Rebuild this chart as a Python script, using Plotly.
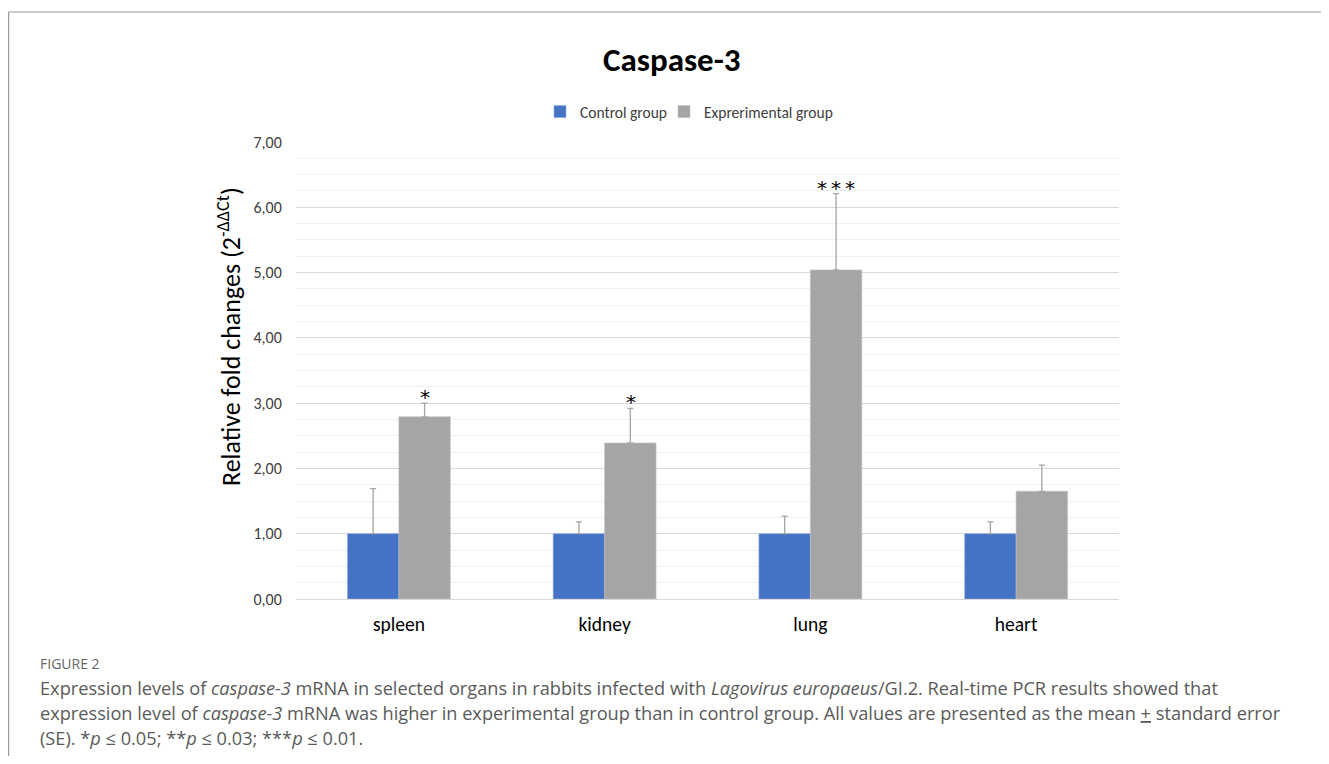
import plotly.graph_objects as go

organs = ["spleen", "kidney", "lung", "heart"]
control_mean = [1.00, 1.00, 1.00, 1.00]
control_se = [0.69, 0.18, 0.27, 0.18]
exp_mean = [2.79, 2.39, 5.04, 1.65]
exp_se = [0.21, 0.53, 1.17, 0.40]
stars = ["*", "*", "*\u2009*\u2009*", ""]
y_ticks = [0, 1, 2, 3, 4, 5, 6, 7]

OFF = 8  # default page body margin
W, H = 1329 - 2 * OFF, 764 - 2 * OFF
L, R, T, B = 296, 1119, 142, 599  # plot area in page pixels
pw, ph = R - L, B - T

def px(x):
    return (x - L) / pw

def py(y):
    return (B - y) / ph

chart_font = "Carlito, Calibri, 'Open Sans', sans-serif"
cap_font = "'Open Sans', Lato, sans-serif"

fig = go.Figure()
fig.add_trace(go.Bar(
    name="Control group", x=organs, y=control_mean, legend="legend",
    marker=dict(color="#4472C4", line=dict(color="#8faadc", width=0.6)),
    error_y=dict(type="data", array=control_se, arrayminus=[0]*4, symmetric=False,
                 color="#a5a5a5", thickness=1.3, width=3),
))
fig.add_trace(go.Bar(
    name="Exprerimental group", x=organs, y=exp_mean, legend="legend2",
    marker=dict(color="#A5A5A5", line=dict(color="#c0c0c0", width=0.6)),
    error_y=dict(type="data", array=exp_se, arrayminus=[0]*4, symmetric=False,
                 color="#a5a5a5", thickness=1.3, width=3),
))

annotations = []
for o, m, e, s in zip(organs, exp_mean, exp_se, stars):
    if s:
        annotations.append(dict(x=o, y=m + e, xref="x", yref="y", text=s, showarrow=False,
                                xshift=26, yanchor="bottom", yshift=-8,
                                font=dict(family="DejaVu Sans", size=20, color="#000000")))

annotations.append(dict(x=px(672), y=py(60), xref="paper", yref="paper", text="<b>Caspase-3</b>",
                        showarrow=False, xanchor="center", yanchor="middle",
                        font=dict(family=chart_font, size=33, color="#000000")))
annotations.append(dict(x=px(229), y=py(337), xref="paper", yref="paper",
                        text="Relative fold changes (2<sup>-ΔΔCt</sup>)", textangle=-90,
                        showarrow=False, xanchor="center", yanchor="middle",
                        font=dict(family=chart_font, size=26, color="#000000")))

annotations.append(dict(x=px(38), y=py(663), xref="paper", yref="paper", text="FIGURE 2",
                        showarrow=False, xanchor="left", yanchor="middle",
                        font=dict(family=cap_font, size=14, color="#666666")))
cap_lines = [
    "Expression levels of <i>caspase-3</i> mRNA in selected organs in rabbits infected with <i>Lagovirus europaeus</i>/GI.2. Real-time PCR results showed that",
    "expression level of <i>caspase-3</i> mRNA was higher in experimental group than in control group. All values are presented as the mean <u>+</u> standard error",
    "(SE). *<i>p</i> \u2264 0.05; **<i>p</i> \u2264 0.03; ***<i>p</i> \u2264 0.01.",
]
for i, line in enumerate(cap_lines):
    annotations.append(dict(x=px(38), y=py(688 + 25 * i), xref="paper", yref="paper", text=line,
                            showarrow=False, xanchor="left", yanchor="middle",
                            font=dict(family=cap_font, size=18.2, color="#5a5a5a")))

shapes = [
    dict(type="line", xref="paper", yref="paper", x0=px(8.6), x1=px(1329), y0=py(12), y1=py(12),
         line=dict(color="#9a9a9a", width=1.2)),
    dict(type="line", xref="paper", yref="paper", x0=px(8.6), x1=px(8.6), y0=py(12), y1=py(764),
         line=dict(color="#9a9a9a", width=1.2)),
]

leg_font = dict(family=chart_font, size=15.5, color="#404040")
fig.update_layout(
    width=W, height=H,
    margin=dict(l=L - OFF, r=W - (R - OFF), t=T - OFF, b=H - (B - OFF), pad=0),
    paper_bgcolor="white", plot_bgcolor="white",
    barmode="group", bargap=0.5, bargroupgap=0,
    separators=",.",
    showlegend=True,
    legend=dict(orientation="h", x=px(540), y=py(112), xanchor="left", yanchor="middle",
                font=leg_font, itemwidth=30, bgcolor="rgba(0,0,0,0)"),
    legend2=dict(orientation="h", x=px(664), y=py(112), xanchor="left", yanchor="middle",
                 font=leg_font, itemwidth=30, bgcolor="rgba(0,0,0,0)"),
    font=dict(family=chart_font),
    annotations=annotations,
    shapes=shapes,
    xaxis=dict(showline=False, ticks="outside", ticklen=8, tickcolor="rgba(0,0,0,0)",
               tickfont=dict(family=chart_font, size=19.5, color="#000000"),
               showgrid=False),
    yaxis=dict(range=[0, 7], tickvals=y_ticks, tickformat=".2f", showgrid=True, gridcolor="#d9d9d9",
               gridwidth=1, zeroline=True, zerolinecolor="#d9d9d9", zerolinewidth=1.2,
               showline=False, ticks="outside", ticklen=10, tickcolor="rgba(0,0,0,0)",
               tickfont=dict(family=chart_font, size=16, color="#404040"),
               minor=dict(dtick=0.25, showgrid=True, gridcolor="#f0f0f0", gridwidth=1)),
)

fig.write_html("out.html")
